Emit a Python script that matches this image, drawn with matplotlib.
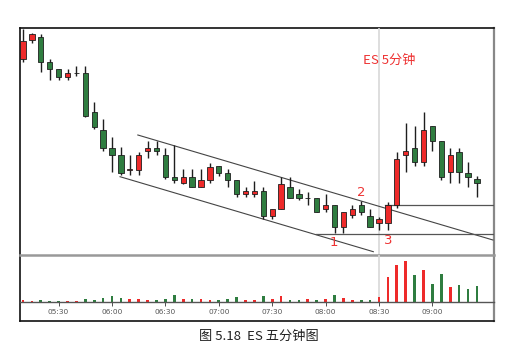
import matplotlib
matplotlib.use("Agg")
import matplotlib.pyplot as plt
import numpy as np
import pandas as pd

# ---------------- data ----------------
start_time = "05:10"
opens  = [1294.1, 1296.0, 1296.3, 1293.8, 1293.1, 1292.3, 1292.7, 1292.7, 1288.8, 1287.0,
          1285.2, 1284.5, 1283.05, 1283.05, 1284.9, 1285.2, 1284.5, 1282.3, 1281.7, 1282.3,
          1281.3, 1282.0, 1283.4, 1282.7, 1282.0, 1280.6, 1280.6, 1280.9, 1278.4, 1279.1,
          1281.3, 1280.6, 1280.15, 1280.2, 1279.1, 1279.5, 1277.3, 1278.5, 1279.5, 1278.4,
          1277.7, 1277.7, 1279.5, 1284.5, 1285.2, 1283.8, 1287.4, 1285.9, 1282.8, 1284.8,
          1282.7, 1282.1]
highs  = [1297.1, 1296.65, 1296.6, 1294.1, 1293.1, 1293.1, 1293.4, 1293.4, 1289.8, 1288.1,
          1286.3, 1285.3, 1284.5, 1284.8, 1285.9, 1285.9, 1285.2, 1285.5, 1283.1, 1283.1,
          1283.1, 1283.7, 1283.4, 1283.1, 1282.0, 1281.3, 1281.9, 1281.3, 1279.1, 1282.3,
          1282.3, 1281.1, 1280.8, 1280.2, 1280.6, 1279.5, 1278.8, 1279.5, 1279.9, 1279.1,
          1278.3, 1279.8, 1284.8, 1287.7, 1287.4, 1288.8, 1287.4, 1285.9, 1285.2, 1285.2,
          1283.8, 1282.4]
lows   = [1293.8, 1295.7, 1292.8, 1292.0, 1292.0, 1292.0, 1292.4, 1288.3, 1287.1, 1284.95,
          1282.8, 1282.5, 1282.5, 1282.5, 1284.2, 1284.5, 1282.1, 1281.7, 1281.6, 1281.3,
          1281.3, 1281.7, 1282.4, 1281.3, 1280.3, 1280.3, 1280.3, 1278.1, 1278.1, 1279.1,
          1280.2, 1280.0, 1279.5, 1278.8, 1278.8, 1276.7, 1276.7, 1278.2, 1278.5, 1277.3,
          1277.0, 1277.0, 1279.25, 1282.8, 1283.4, 1283.4, 1284.9, 1282.0, 1281.7, 1281.7,
          1281.3, 1280.3]
closes = [1295.9, 1296.6, 1293.8, 1293.1, 1292.3, 1292.7, 1292.75, 1288.4, 1287.35, 1285.25,
          1284.5, 1282.7, 1283.1, 1284.5, 1285.2, 1284.9, 1282.3, 1282.0, 1282.3, 1281.3,
          1282.0, 1283.3, 1282.7, 1282.0, 1280.6, 1280.9, 1280.9, 1278.4, 1279.1, 1281.6,
          1280.2, 1280.2, 1280.2, 1278.8, 1279.5, 1277.3, 1278.8, 1279.1, 1278.8, 1277.3,
          1278.1, 1279.5, 1284.1, 1284.9, 1283.8, 1287.0, 1285.9, 1282.3, 1284.5, 1282.8,
          1282.3, 1281.7]
volumes = [1700, 1500, 1700, 1300, 1300, 1300, 1300, 3000, 2300, 4300,
           5700, 3700, 3000, 2700, 1700, 1700, 3000, 6700, 2700, 2700,
           2700, 1700, 1700, 2700, 4700, 2300, 2300, 6000, 3300, 6000,
           2300, 1700, 2700, 2000, 2700, 7300, 4300, 2300, 2300, 2300,
           5300, 25000, 37300, 40700, 27300, 31700, 18300, 28000, 15300, 16700,
           13300, 15700]
tick_labels = ["05:30", "06:00", "06:30", "07:00", "07:30", "08:00", "08:30", "09:00"]
marker_time = "08:30"

# trend lines (bar index, price)
upper_channel = [(12.9, 1286.5), (52.8, 1276.0)]
lower_channel = [(10.9, 1282.33), (39.36, 1274.83)]
hline_high = [(40.7, 1279.55), (52.9, 1279.55)]
hline_low = [(32.9, 1276.57), (52.9, 1276.57)]
point_labels = ["1", "2", "3"]
point_pos = [(34.97, 1275.8), (38.06, 1280.77), (40.98, 1276.0)]
title_text = "ES 5分钟"
title_pos = (38.2, 1293.93)
caption = "图 5.18  ES 五分钟图"

# ---------------- figure ----------------
W, H = 528, 361
fig = plt.figure(figsize=(W / 100, H / 100), dpi=100)
fig.patch.set_facecolor("white")

def fig_rect(x0, y0, x1, y1):
    return [x0 / W, 1 - y1 / H, (x1 - x0) / W, (y1 - y0) / H]

RED = "#ee2a2a"
GREEN = "#2f7d40"
EDGE = "#1e1e1e"

times = pd.date_range("2000-01-01 " + start_time, periods=len(opens), freq="5min")
labels_all = list(times.strftime("%H:%M"))
idx = np.arange(len(opens))
o = np.array(opens); c = np.array(closes); h = np.array(highs); l = np.array(lows)
up = c >= o
colors = np.where(up, RED, GREEN)

xl = (-0.34, 52.92)

# frame axes
axf = fig.add_axes(fig_rect(20, 28, 494, 321))
axf.set_xticks([]); axf.set_yticks([])
axf.set_facecolor("white")
for s in ["top", "left", "bottom"]:
    axf.spines[s].set_color("#111111"); axf.spines[s].set_linewidth(1.2)
axf.spines["right"].set_color("#888888"); axf.spines["right"].set_linewidth(1.6)

# price axes
ax = fig.add_axes(fig_rect(20, 28, 494, 255))
ax.patch.set_alpha(0)
ax.set_xlim(*xl)
ax.set_ylim(1274.5, 1297.2)
for s in ["top", "left", "right"]:
    ax.spines[s].set_visible(False)
ax.spines["bottom"].set_color("#999999"); ax.spines["bottom"].set_linewidth(1.8)
ax.set_xticks([]); ax.set_yticks([])

mpos = labels_all.index(marker_time)
ax.axvline(mpos, color="#d8d8d8", lw=1.2, zorder=0)
ax.vlines(idx, l, h, color=EDGE, lw=1.0, zorder=2)
ax.bar(idx, np.abs(c - o), bottom=np.minimum(o, c), width=0.6, color=colors,
       edgecolor=EDGE, linewidth=0.6, zorder=3)

for seg in (upper_channel, lower_channel):
    ax.plot([seg[0][0], seg[1][0]], [seg[0][1], seg[1][1]], color="#444444", lw=0.8, zorder=1)
for seg in (hline_high, hline_low):
    ax.plot([seg[0][0], seg[1][0]], [seg[0][1], seg[1][1]], color="#555555", lw=0.9, zorder=1)

for t, (px, py) in zip(point_labels, point_pos):
    ax.text(px, py, t, color="#ee3333", fontsize=9.5, ha="center", va="center",
            family=["DejaVu Sans"])
ax.text(title_pos[0], title_pos[1], title_text, color="#ee3333", fontsize=9.5,
        ha="left", va="center", family=["Noto Sans CJK SC", "DejaVu Sans"])

# volume axes
axv = fig.add_axes(fig_rect(20, 255, 494, 302))
axv.patch.set_alpha(0)
axv.set_xlim(*xl)
axv.set_ylim(0, 47000)
for s in ["top", "left", "right"]:
    axv.spines[s].set_visible(False)
axv.spines["bottom"].set_color("#555555"); axv.spines["bottom"].set_linewidth(1.0)
axv.axvline(mpos, color="#d8d8d8", lw=1.2, zorder=0)
axv.bar(idx, volumes, width=0.3, color=colors, zorder=2)
tpos = [labels_all.index(t) for t in tick_labels]
axv.set_xticks(tpos)
axv.set_xticklabels(tick_labels, fontsize=5.3, color="#555555")
axv.tick_params(axis="x", length=3, width=0.6, color="#333333", pad=2)
axv.set_yticks([])

fig.text(258.7 / W, 1 - 336 / H, caption, ha="center", va="center", fontsize=9.5,
         color="#222222", family=["Noto Sans CJK SC", "DejaVu Sans"])

fig.savefig("out.png", dpi=100)
